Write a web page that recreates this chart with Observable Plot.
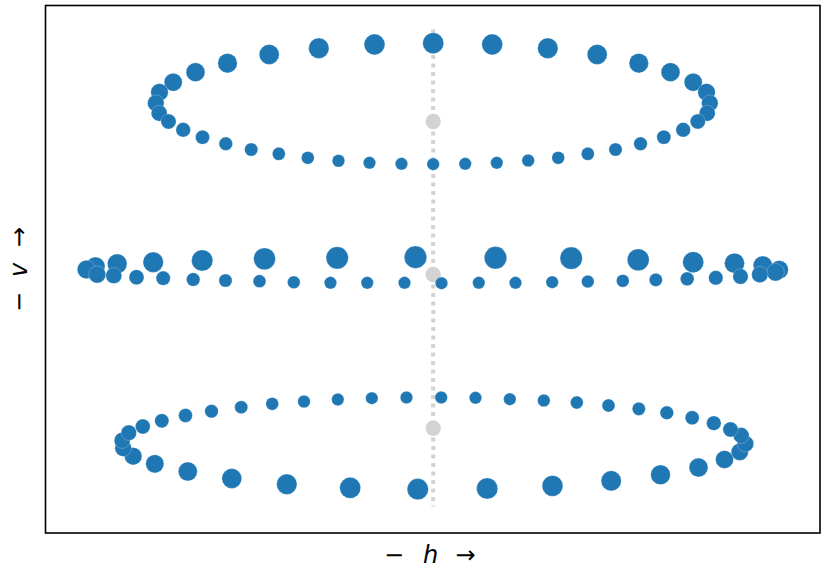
<!DOCTYPE html>
<html>
<head>
<meta charset="utf-8">
<script src="https://cdn.jsdelivr.net/npm/d3@7"></script>
<script src="https://cdn.jsdelivr.net/npm/@observablehq/plot@0.6"></script>
<style>
  html, body { margin: 0; padding: 0; background: #fff; }
  svg { display: block; }
</style>
</head>
<body>
<div id="chart"></div>
<script>
// Top ring (h, v, size)
const topH = [0, 59, 114.6, 164, 205.6, 237.3, 260, 273.3, 276.6, 274, 264.6, 250, 230.6, 207.3, 182.3, 154.6, 125, 95, 63.6, 32,
  0, -31.7, -63.7, -94.7, -125.4, -154.4, -182, -207.4, -230.7, -250, -264.7, -274, -277.4, -273.7, -260, -237.7, -205.7, -164, -114.4, -58.7];
const topV = [231.3, 230, 226.3, 220, 211.3, 202.3, 192.3, 182.3, 171.3, 161.3, 153, 144.7, 137.3, 130.7, 125, 120.7, 116.7, 114, 111.7, 110.7,
  110.3, 110.7, 111.7, 113.7, 116.7, 120.7, 125, 130.7, 137.3, 144.7, 153, 161.3, 171.3, 182.3, 192.3, 202.3, 211.3, 220, 226.3, 230];
const topS = [10.5, 10.4, 10.2, 10, 9.7, 9.4, 9, 8.7, 8.3, 8, 7.6, 7.3, 7, 6.8, 6.6, 6.5, 6.4, 6.3, 6.2, 6.2,
  6.2, 6.2, 6.2, 6.3, 6.4, 6.5, 6.6, 6.8, 7, 7.3, 7.6, 8, 8.3, 8.7, 9, 9.4, 9.7, 10, 10.2, 10.4];

// Middle ring
const midH = [-346.7, -337.7, -316, -280, -231, -168.7, -96, -17.7, 62.3, 138, 205, 260, 301.3, 329.6, 346,
  342.3, 326.6, 307.3, 282.6, 254, 222.6, 189.6, 154.6, 119, 82.3, 45.6, 8.3, -28.7, -66, -102.7, -139.4, -173.7, -207.7, -240, -270, -296.7, -319.4, -336];
const midV = [5, 8, 10.7, 12.3, 14, 15.7, 16.7, 17.3, 16.7, 16.3, 14.7, 12.3, 11.3, 9, 4.7,
  2.3, 0, -2, -3.3, -4.3, -5.3, -6.3, -7, -7.7, -8.3, -8.3, -8.7, -8.3, -8.3, -8.3, -7.7, -6.7, -6, -5, -3.7, -2.7, -1, 0];
const midS = [9.3, 9.5, 9.8, 10.2, 10.6, 10.9, 11.1, 11.2, 11.2, 11.1, 10.9, 10.5, 10, 9.6, 9.2,
  8.8, 8.2, 7.7, 7.2, 6.9, 6.6, 6.4, 6.3, 6.2, 6.2, 6.2, 6.2, 6.2, 6.2, 6.2, 6.3, 6.4, 6.6, 6.8, 7.1, 7.5, 8, 8.6];

// Bottom ring
const botH = [-129.2, -161, -192, -221.7, -247.7, -271.4, -290.4, -304.4, -311, -310, -300, -278.4, -245.4, -201.4, -146.4, -83, -15.4, 54, 119.3, 178,
  227.3, 265.3, 291.3, 306.6, 312.3, 308, 297.3, 280.6, 259, 233.6, 205.6, 175.3, 143.6, 110.6, 76.6, 42.3, 8, -26.7, -61.4, -95.4];
const botV = [-127, -129.3, -132.7, -136.7, -141, -146.3, -152, -158.3, -166, -173.7, -181.7, -189.3, -197, -204, -209.7, -213.3, -214.7, -214, -211.3, -206.3,
  -200.3, -193, -185, -177.3, -169.3, -161, -155, -148.7, -143.3, -138.3, -134.3, -131, -128, -126, -124.7, -123.3, -123, -123, -123.7, -125];
const botS = [6.3, 6.4, 6.5, 6.7, 6.9, 7.1, 7.4, 7.7, 8, 8.3, 8.7, 9.1, 9.5, 9.9, 10.2, 10.5, 10.6, 10.6, 10.4, 10.1,
  9.8, 9.4, 9, 8.6, 8.2, 7.9, 7.6, 7.3, 7, 6.8, 6.6, 6.5, 6.4, 6.3, 6.2, 6.2, 6.2, 6.2, 6.2, 6.2];

// Ring centres and the vertical axis
const centreV = [153, 0, -153.7];
const centreS = [7.7, 7.7, 7.7];
const axisV = [245, -232];

const blue = "#1f77b4";
const grey = "#d3d3d3";

const rings = [];
[[topH, topV, topS], [midH, midV, midS], [botH, botV, botS]].forEach(([H, V, S]) => {
  H.forEach((h, i) => rings.push({h, v: V[i], s: S[i]}));
});
const centres = centreV.map((v, i) => ({h: 0, v, s: centreS[i]}));
const axisLine = axisV.map(v => ({h: 0, v}));

const W = 829, Ht = 579;
const chart = Plot.plot({
  width: W,
  height: Ht,
  marginLeft: 45,
  marginRight: 9.5,
  marginTop: 5,
  marginBottom: 46.5,
  x: {domain: [-387.7, 386.8], axis: null},
  y: {domain: [-258.5, 269], axis: null},
  r: {type: "linear", domain: [0, 12], range: [0, 12]},
  style: {background: "#fff"},
  marks: [
    Plot.line(axisLine, {x: "h", y: "v", stroke: grey, strokeWidth: 4, strokeDasharray: "4,4.5", strokeLinecap: "butt"}),
    Plot.dot(centres, {x: "h", y: "v", r: "s", fill: grey}),
    Plot.dot(rings, {x: "h", y: "v", r: "s", fill: blue, stroke: "white", strokeWidth: 0.4, strokeOpacity: 0.6}),
    Plot.frame({stroke: "black", strokeWidth: 1.6})
  ]
});
document.getElementById("chart").appendChild(chart);

// Axis labels (math-style: upright minus/arrow, italic letter)
const svg = d3.select(chart);
const font = "DejaVu Sans";
const fs = 24;
const xl = svg.append("g").attr("font-family", font).attr("font-size", fs).attr("fill", "black").attr("text-anchor", "middle");
xl.append("text").attr("x", 394).attr("y", 563).text("−");
xl.append("text").attr("x", 430.5).attr("y", 563).attr("font-style", "italic").text("h");
xl.append("text").attr("x", 465.5).attr("y", 563).text("→");

const yl = svg.append("g").attr("font-family", font).attr("font-size", fs).attr("fill", "black").attr("text-anchor", "middle");
[[302, "−", "normal"], [270, "v", "italic"], [237, "→", "normal"]].forEach(([y, t, st]) => {
  yl.append("text").attr("transform", `translate(27,${y}) rotate(-90)`).attr("font-style", st).text(t);
});
</script>
</body>
</html>
